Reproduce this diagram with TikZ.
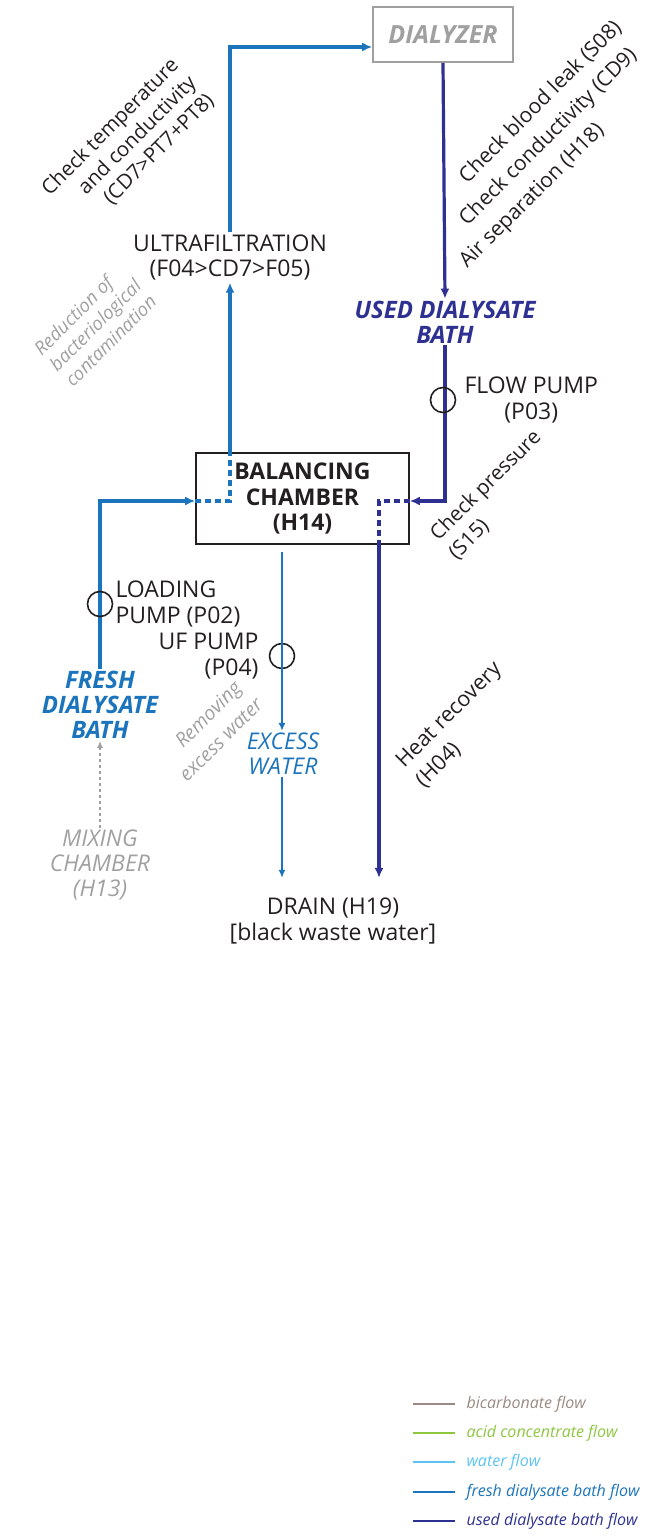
\documentclass[tikz,border=0pt]{standalone}
\usepackage{fontspec}
\setmainfont{Open Sans}
\usepackage{tikz}
\usetikzlibrary{positioning,arrows.meta}
\definecolor{freshblue}{RGB}{28,117,188}
\definecolor{usedblue}{RGB}{46,49,146}
\definecolor{waterblue}{RGB}{91,197,242}
\definecolor{acidgreen}{RGB}{141,198,63}
\definecolor{bicarb}{RGB}{155,138,132}
\definecolor{notegrey}{RGB}{160,160,160}
\definecolor{ink}{RGB}{35,31,32}

\begin{document}
\begin{tikzpicture}[x=1pt,y=-1pt,
  lbl/.style={align=center,text=ink,font=\fontsize{23}{25.5}\selectfont,inner sep=2pt},
  note/.style={align=left,rotate=45,text=ink,font=\fontsize{20.5}{27}\selectfont},
  greynote/.style={align=left,rotate=45,text=notegrey,font=\fontsize{18.5}{22}\selectfont\itshape},
  bath/.style={align=center,font=\fontsize{24}{25}\selectfont\bfseries\itshape,inner sep=2pt},
  box/.style={draw,line width=1.6pt,align=center},
  pump/.style={circle,draw=ink,line width=1.6pt,minimum size=25pt,inner sep=0pt},
  fresh/.style={-{Latex[length=10pt,width=9pt]},freshblue,line width=3.2pt},
  used/.style={-{Latex[length=10pt,width=9pt]},usedblue,line width=3.2pt},
  thinflow/.style={-{Latex[length=8pt,width=7pt]},freshblue,line width=2.2pt},
  inside/.style={dash pattern=on 6pt off 4pt,line width=3.2pt},
  key/.style={line width=2.8pt},
  keytext/.style={anchor=west,font=\fontsize{16}{18}\selectfont\itshape}
]
\useasboundingbox (0,0) rectangle (658,1539);

\node[box,draw=notegrey,text=notegrey,minimum width=140pt,minimum height=55pt,
  font=\fontsize{25}{25}\selectfont\bfseries\itshape] (dia) at (443,34.5) {DIALYZER};
\node[lbl] (uf) at (230,257.5) {ULTRAFILTRATION\\(F04>CD7>F05)};
\node[bath,text=usedblue] (usedbath) at (445,322) {USED DIALYSATE\\BATH};
\node[box,draw=ink,text=ink,minimum width=213pt,minimum height=91pt,
  font=\fontsize{23}{25.5}\selectfont\bfseries] (bal) at (302.5,498.5) {BALANCING\\CHAMBER\\(H14)};
\node[bath,text=freshblue] (freshbath) at (100,705) {FRESH\\DIALYSATE\\BATH};
\node[lbl,text=freshblue,font=\fontsize{23}{25}\selectfont\itshape] (excess) at (283,754) {EXCESS\\WATER};
\node[lbl,text=notegrey,font=\fontsize{23}{25}\selectfont\itshape] (mix) at (100,865) {MIXING\\CHAMBER\\(H13)};
\node[lbl] (drain) at (333,921) {DRAIN (H19)\\{[black waste water]}};

\coordinate (fj) at (230,501);
\coordinate (uj) at (379,501);

% fresh dialysate
\draw[fresh] (freshbath.north) |- (bal.west |- fj);
\draw[freshblue,inside] (bal.west |- fj) -- (fj) -- (fj |- bal.north);
\draw[fresh] (fj |- bal.north) -- (uf.south -| fj);
\draw[fresh] (uf.north -| fj) |- ([yshift=-12.5pt]dia.west);

% used dialysate
\draw[used] (dia.south) -- (usedbath.north);
\draw[used] (usedbath.south) |- (bal.east |- uj);
\draw[usedblue,inside] (bal.east |- uj) -- (uj) -- (uj |- bal.south);
\draw[used,shorten >=18pt] (uj |- bal.south) -- (drain.north -| uj);

\node[pump] (p03) at (443,400) {};
\node[pump] (p02) at (100,604) {};
\node[pump] (p04) at (282,656) {};
\node[lbl,right=6pt of p03] (p03txt) {FLOW PUMP\\(P03)};
\node[lbl,align=left,right=0pt of p02] (p02txt) {LOADING\\PUMP (P02)};
\node[lbl,align=right,left=8pt of p04] (p04txt) {UF PUMP\\(P04)};

% excess water
\draw[thinflow] ([yshift=-7pt]bal.south -| p04) -- (excess.north -| p04);
\draw[thinflow,shorten >=18pt] (excess.south -| p04) -- (drain.north -| p04);
\draw[-{Latex[length=7pt,width=6pt]},notegrey,dashed,line width=1.6pt] (mix.north) -- (freshbath.south);

\node[note,align=right,font=\fontsize{20.5}{25}\selectfont] (tempnote) at (128,145) {Check temperature\\and conductivity\\(CD7>PT7+PT8)};
\node[note,font=\fontsize{21}{30}\selectfont] (leaknote) at (541,145)
  {\hspace*{60pt}Check blood leak (S08)\\\hspace*{30pt}Check conductivity (CD9)\\Air separation (H18)};
\node[greynote] (bactnote) at (95,325) {Reduction of\\bacteriological\\contamination};
\node[note,font=\fontsize{20.5}{26}\selectfont] (presnote) at (495,495) {Check pressure\\(S15)};
\node[greynote,font=\fontsize{19.5}{27}\selectfont\itshape] (waternote) at (211,730) {\hspace*{21pt}Removing\\excess water};
\node[note,font=\fontsize{21.5}{28}\selectfont] (heatnote) at (459,725) {Heat recovery\\(H04)};

% legend
\node[keytext,text=bicarb] (k1) at (463,1404) {bicarbonate flow};
\node[keytext,text=acidgreen] (k2) at (463,1433) {acid concentrate flow};
\node[keytext,text=waterblue] (k3) at (463,1462) {water flow};
\node[keytext,text=freshblue] (k4) at (463,1492) {fresh dialysate bath flow};
\node[keytext,text=usedblue] (k5) at (463,1521) {used dialysate bath flow};
\draw[key,bicarb] ([xshift=-8pt]k1.west) -- ++(-42pt,0);
\draw[key,acidgreen] ([xshift=-8pt]k2.west) -- ++(-42pt,0);
\draw[key,waterblue] ([xshift=-8pt]k3.west) -- ++(-42pt,0);
\draw[key,freshblue] ([xshift=-8pt]k4.west) -- ++(-42pt,0);
\draw[key,usedblue] ([xshift=-8pt]k5.west) -- ++(-42pt,0);
\end{tikzpicture}
\end{document}
